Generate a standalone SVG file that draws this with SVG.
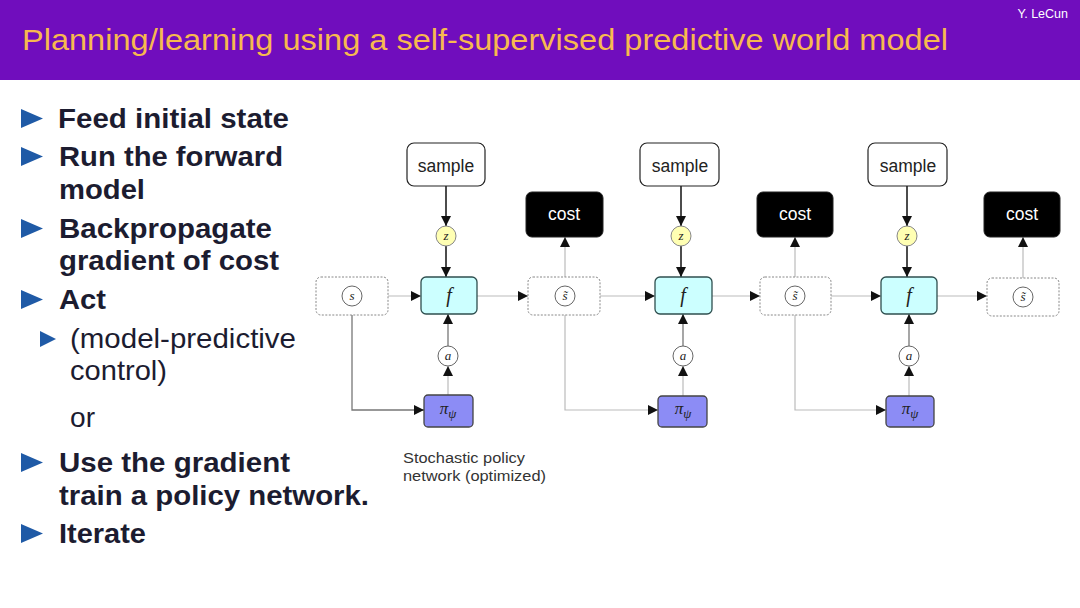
<svg xmlns="http://www.w3.org/2000/svg" width="1080" height="608" viewBox="0 0 1080 608">
<style>
.bt{font-family:"Liberation Sans",Arial,sans-serif;font-weight:bold;font-size:28px;fill:#1c1c30}
.rt{font-family:"Liberation Sans",Arial,sans-serif;font-size:28px;fill:#1c1c30}
.bul{fill:#1f5aa6}
.lbl{font-family:"Liberation Sans",Arial,sans-serif;font-size:17.5px;text-anchor:middle}
.math{font-family:"Liberation Serif","DejaVu Serif",serif;font-style:italic;text-anchor:middle;fill:#222}
.smp{fill:#fff;stroke:#222;stroke-width:1.2}
.cst{fill:#000;stroke:#222;stroke-width:1}
.fbox{fill:#ccffff;stroke:#2f4f4f;stroke-width:1.3}
.pbox{fill:#8c8cf5;stroke:#444;stroke-width:1.3}
.dbox{fill:#fff;stroke:#888;stroke-width:1;stroke-dasharray:2 1.5}
.circ{fill:#fff;stroke:#666;stroke-width:1}
.zc{fill:#ffffb3;stroke:#888;stroke-width:1}
.dark{stroke:#111;stroke-width:1.5;fill:none}
.mid{stroke:#777;stroke-width:1.3;fill:none}
.lite{stroke:#bbb;stroke-width:1.2;fill:none}
</style>
<defs>
<marker id="ah" viewBox="0 0 10 10" refX="10" refY="5" markerWidth="11" markerHeight="10" markerUnits="userSpaceOnUse" orient="auto"><path d="M0,0 L10,5 L0,10 z" fill="#111"/></marker>
</defs>
<rect x="0" y="0" width="1080" height="608" fill="#fff"/>
<g id="header">
<rect x="0" y="0" width="1080" height="80" fill="#700dbd"/>
<text x="22" y="50" font-family="Liberation Sans,Arial,sans-serif" font-size="29.5" fill="#f7b94f" textLength="926" lengthAdjust="spacingAndGlyphs">Planning/learning using a self-supervised predictive world model</text>
<text x="1068" y="18" font-family="Liberation Sans,Arial,sans-serif" font-size="12.5" fill="#fff" text-anchor="end">Y. LeCun</text>
</g>
<g id="bullets">
<polygon class="bul" points="21,109 43,118.5 21,128"/>
<text class="bt" x="58" y="128" textLength="231" lengthAdjust="spacingAndGlyphs">Feed initial state</text>
<polygon class="bul" points="21,147 43,156.5 21,166"/>
<text class="bt" x="59" y="166" textLength="224" lengthAdjust="spacingAndGlyphs">Run the forward</text>
<text class="bt" x="59" y="199" textLength="86" lengthAdjust="spacingAndGlyphs">model</text>
<polygon class="bul" points="21,219 43,228.5 21,238"/>
<text class="bt" x="59" y="238" textLength="213" lengthAdjust="spacingAndGlyphs">Backpropagate</text>
<text class="bt" x="59" y="270" textLength="220" lengthAdjust="spacingAndGlyphs">gradient of cost</text>
<polygon class="bul" points="21,290 43,299.5 21,309"/>
<text class="bt" x="59" y="309" textLength="47" lengthAdjust="spacingAndGlyphs">Act</text>
<polygon class="bul" points="40,331 56,339 40,347"/>
<text class="rt" x="70" y="348" textLength="226" lengthAdjust="spacingAndGlyphs">(model-predictive</text>
<text class="rt" x="70" y="380" textLength="97" lengthAdjust="spacingAndGlyphs">control)</text>
<text class="rt" x="70" y="427" textLength="25" lengthAdjust="spacingAndGlyphs">or</text>
<polygon class="bul" points="21,453 43,462.5 21,472"/>
<text class="bt" x="59" y="472" textLength="231" lengthAdjust="spacingAndGlyphs">Use the gradient</text>
<text class="bt" x="59" y="505" textLength="310" lengthAdjust="spacingAndGlyphs">train a policy network.</text>
<polygon class="bul" points="21,524 43,533.5 21,543"/>
<text class="bt" x="59" y="543" textLength="87" lengthAdjust="spacingAndGlyphs">Iterate</text>
</g>
<g id="connectors">
<line class="dark" x1="446" y1="186" x2="446" y2="226" marker-end="url(#ah)"/>
<line class="dark" x1="446" y1="246" x2="446" y2="277" marker-end="url(#ah)"/>
<line class="mid" x1="448" y1="346" x2="448" y2="314" marker-end="url(#ah)"/>
<line class="lite" x1="448" y1="395" x2="448" y2="366" marker-end="url(#ah)"/>
<line class="lite" x1="388" y1="296" x2="421" y2="296" marker-end="url(#ah)"/>
<line class="lite" x1="477" y1="296" x2="528" y2="296" marker-end="url(#ah)"/>
<polyline class="mid" points="352,306 352,410 424,410" marker-end="url(#ah)"/>
<line class="lite" x1="565" y1="277" x2="565" y2="237" marker-end="url(#ah)"/>
<line class="dark" x1="681" y1="186" x2="681" y2="226" marker-end="url(#ah)"/>
<line class="dark" x1="681" y1="246" x2="681" y2="277" marker-end="url(#ah)"/>
<line class="mid" x1="683" y1="346" x2="683" y2="314" marker-end="url(#ah)"/>
<line class="lite" x1="683" y1="396" x2="683" y2="366" marker-end="url(#ah)"/>
<line class="lite" x1="600" y1="296" x2="655" y2="296" marker-end="url(#ah)"/>
<line class="lite" x1="712" y1="296" x2="760" y2="296" marker-end="url(#ah)"/>
<polyline class="lite" points="565,314 565,410 658,410" marker-end="url(#ah)"/>
<line class="lite" x1="795" y1="277" x2="795" y2="237" marker-end="url(#ah)"/>
<line class="dark" x1="907" y1="186" x2="907" y2="226" marker-end="url(#ah)"/>
<line class="dark" x1="907" y1="246" x2="907" y2="277" marker-end="url(#ah)"/>
<line class="mid" x1="909" y1="346" x2="909" y2="314" marker-end="url(#ah)"/>
<line class="lite" x1="909" y1="396" x2="909" y2="366" marker-end="url(#ah)"/>
<line class="lite" x1="831" y1="296" x2="881" y2="296" marker-end="url(#ah)"/>
<line class="lite" x1="937" y1="296" x2="987" y2="296" marker-end="url(#ah)"/>
<polyline class="lite" points="795,314 795,410 886,410" marker-end="url(#ah)"/>
<line class="lite" x1="1023" y1="278" x2="1023" y2="237" marker-end="url(#ah)"/>
</g>
<g id="sample1"><rect class="smp" x="407" y="143" width="78" height="43" rx="7"/><text class="lbl" x="446" y="172" fill="#222">sample</text></g>
<g id="sample2"><rect class="smp" x="640" y="143" width="79" height="43" rx="7"/><text class="lbl" x="680" y="172" fill="#222">sample</text></g>
<g id="sample3"><rect class="smp" x="868" y="143" width="79" height="43" rx="7"/><text class="lbl" x="908" y="172" fill="#222">sample</text></g>
<g id="z1"><circle class="zc" cx="446" cy="236" r="10"/><text class="math" x="446" y="240" font-size="13">z</text></g>
<g id="z2"><circle class="zc" cx="681" cy="236" r="10"/><text class="math" x="681" y="240" font-size="13">z</text></g>
<g id="z3"><circle class="zc" cx="907" cy="236" r="10"/><text class="math" x="907" y="240" font-size="13">z</text></g>
<g id="cost1"><rect class="cst" x="526" y="192" width="77" height="45" rx="6"/><text class="lbl" x="564" y="220" fill="#fff">cost</text></g>
<g id="cost2"><rect class="cst" x="757" y="192" width="76" height="45" rx="6"/><text class="lbl" x="795" y="220" fill="#fff">cost</text></g>
<g id="cost3"><rect class="cst" x="984" y="192" width="76" height="45" rx="6"/><text class="lbl" x="1022" y="220" fill="#fff">cost</text></g>
<g id="s0"><rect class="dbox" x="316" y="277" width="72" height="38" rx="5"/><circle class="circ" cx="352" cy="296" r="10"/><text class="math" x="352" y="300" font-size="13">s</text></g>
<g id="s1"><rect class="dbox" x="528" y="277" width="72" height="38" rx="5"/><circle class="circ" cx="565" cy="296" r="10"/><text class="math" x="565" y="300" font-size="13" font-style="normal">s̃</text></g>
<g id="s2"><rect class="dbox" x="760" y="277" width="71" height="38" rx="5"/><circle class="circ" cx="795" cy="296" r="10"/><text class="math" x="795" y="300" font-size="13" font-style="normal">s̃</text></g>
<g id="s3"><rect class="dbox" x="987" y="278" width="72" height="38" rx="5"/><circle class="circ" cx="1023" cy="297" r="10"/><text class="math" x="1023" y="301" font-size="13" font-style="normal">s̃</text></g>
<g id="f1"><rect class="fbox" x="421" y="277" width="56" height="37" rx="5"/><text class="math" x="449" y="302" font-size="20">f</text></g>
<g id="f2"><rect class="fbox" x="655" y="277" width="57" height="37" rx="5"/><text class="math" x="683" y="302" font-size="20">f</text></g>
<g id="f3"><rect class="fbox" x="881" y="277" width="56" height="37" rx="5"/><text class="math" x="909" y="302" font-size="20">f</text></g>
<g id="a1"><circle class="circ" cx="448" cy="356" r="10"/><text class="math" x="448" y="360" font-size="13">a</text></g>
<g id="a2"><circle class="circ" cx="683" cy="356" r="10"/><text class="math" x="683" y="360" font-size="13">a</text></g>
<g id="a3"><circle class="circ" cx="909" cy="356" r="10"/><text class="math" x="909" y="360" font-size="13">a</text></g>
<g id="pi1"><rect class="pbox" x="424" y="395" width="49" height="32" rx="4"/><text class="math" x="448" y="414" font-size="17">π<tspan font-size="13" dy="4">ψ</tspan></text></g>
<g id="pi2"><rect class="pbox" x="658" y="396" width="49" height="31" rx="4"/><text class="math" x="683" y="414" font-size="17">π<tspan font-size="13" dy="4">ψ</tspan></text></g>
<g id="pi3"><rect class="pbox" x="886" y="396" width="48" height="31" rx="4"/><text class="math" x="910" y="414" font-size="17">π<tspan font-size="13" dy="4">ψ</tspan></text></g>
<g id="caption">
<text x="403" y="463" font-family="Liberation Sans,Arial,sans-serif" font-size="15.5" fill="#333" textLength="122" lengthAdjust="spacingAndGlyphs">Stochastic policy</text>
<text x="403" y="481" font-family="Liberation Sans,Arial,sans-serif" font-size="15.5" fill="#333" textLength="143" lengthAdjust="spacingAndGlyphs">network (optimized)</text>
</g>
</svg>
